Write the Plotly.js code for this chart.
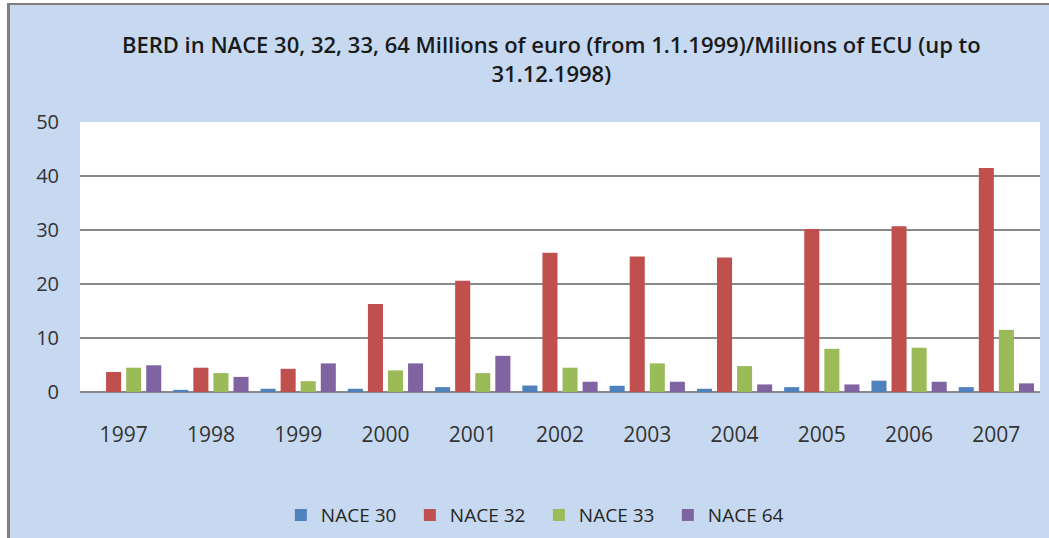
<!DOCTYPE html>
<html>
<head>
<meta charset="utf-8">
<script src="https://cdn.plot.ly/plotly-3.0.1.min.js"></script>
<style>
  html, body { margin: 0; padding: 0; background: #ffffff; width: 1049px; height: 538px; overflow: hidden; }
  #frame { position: absolute; left: 7px; top: 3px; width: 1042px; height: 535px;
           border-left: 3px solid #7f7f7f; border-top: 2px solid #7f7f7f; box-sizing: border-box; background: #c6d9f1; }
  #chart { width: 1039px; height: 533px; }
</style>
</head>
<body>
<div id="frame"><div id="chart"></div></div>
<script>
const years = ["1997","1998","1999","2000","2001","2002","2003","2004","2005","2006","2007"];
const seriesNames = ["NACE 30","NACE 32","NACE 33","NACE 64"];
const nace30 = [0.0, 0.4, 0.6, 0.6, 0.9, 1.2, 1.15, 0.6, 0.9, 2.1, 0.9];
const nace32 = [3.7, 4.5, 4.3, 16.3, 20.6, 25.8, 25.1, 24.9, 30.2, 30.7, 41.5];
const nace33 = [4.5, 3.5, 2.0, 4.0, 3.5, 4.5, 5.3, 4.8, 8.0, 8.2, 11.5];
const nace64 = [4.95, 2.8, 5.3, 5.3, 6.7, 1.9, 1.9, 1.4, 1.4, 1.9, 1.6];
const titleLine1 = "BERD in NACE 30, 32, 33, 64 Millions of euro (from 1.1.1999)/Millions of ECU (up to";
const titleLine2 = "31.12.1998)";
const colors = ["#4f81bd","#c0504d","#9bbb59","#8064a2"];
const values = [nace30, nace32, nace33, nace64];

const FONT = "Open Sans, Noto Sans, sans-serif";
const traces = values.map((v, i) => ({
  type: "bar",
  name: seriesNames[i],
  x: years,
  y: v,
  marker: { color: colors[i], line: { width: 0 } },
  hoverinfo: "x+y+name"
}));

const layout = {
  width: 1039,
  height: 533,
  paper_bgcolor: "#c6d9f1",
  plot_bgcolor: "#ffffff",
  margin: { l: 70, r: 9, t: 117, b: 146 },
  barmode: "group",
  bargap: 0.08,
  bargroupgap: 0.25,
  font: { family: FONT, color: "#262626" },
  title: {
    text: titleLine1 + "<br>" + titleLine2,
    font: { family: FONT, size: 22, color: "#1a1a1a", weight: 600 },
    x: 0.521, xref: "container", xanchor: "center",
    y: 0.91, yref: "container", yanchor: "top"
  },
  xaxis: {
    type: "category",
    showgrid: false,
    showline: false,
    zeroline: false,
    ticks: "",
    ticklabelstandoff: 28,
    tickfont: { family: FONT, size: 21, color: "#333333" }
  },
  yaxis: {
    range: [0, 50],
    dtick: 10,
    tick0: 0,
    showgrid: true,
    gridcolor: "#8a8a8a",
    gridwidth: 1.5,
    zeroline: true,
    zerolinecolor: "#8a8a8a",
    zerolinewidth: 1.5,
    showline: false,
    ticks: "",
    ticklabelstandoff: 20,
    tickfont: { family: FONT, size: 20, color: "#333333" }
  },
  showlegend: true,
  legend: {
    orientation: "h",
    xref: "container", x: 0.509, xanchor: "center",
    yref: "container", y: 0.043, yanchor: "middle",
    bgcolor: "rgba(0,0,0,0)",
    font: { family: FONT, size: 19, color: "#262626" },
    itemwidth: 30,
    entrywidth: 84,
    traceorder: "normal"
  }
};

Plotly.newPlot("chart", traces, layout, { displayModeBar: false, staticPlot: true });
</script>
</body>
</html>
